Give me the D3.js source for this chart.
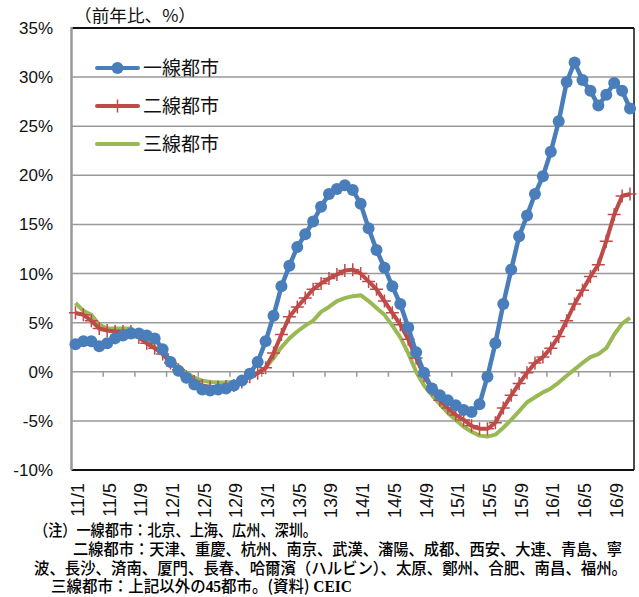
<!DOCTYPE html>
<html>
<head>
<meta charset="utf-8">
<script src="https://cdn.jsdelivr.net/npm/d3@7"></script>
<style>
  body { margin: 0; background: #fff; }
  svg { font-family: "Liberation Sans", Arial, sans-serif; }
  .jp { font-family: "Noto Sans CJK JP", "Noto Sans", sans-serif; }
</style>
</head>
<body>
<svg width="639" height="597"></svg>
<script>
// months 2011/1 .. 2016/11
var months = [];
for (var yy = 11; yy <= 16; yy++) {
  for (var mm = 1; mm <= 12; mm++) {
    if (yy == 16 && mm > 11) break;
    months.push(yy + "/" + mm);
  }
}
var tickLabels = ["11/1","11/5","11/9","12/1","12/5","12/9","13/1","13/5","13/9",
                  "14/1","14/5","14/9","15/1","15/5","15/9","16/1","16/5","16/9"];
var yTicks = [-10, -5, 0, 5, 10, 15, 20, 25, 30, 35];

// 一線都市
var tier1 = [2.8, 3.1, 3.1, 2.6, 2.9, 3.4, 3.7, 3.9, 3.9, 3.7, 3.4, 2.3,
             1.0, 0.1, -0.6, -1.3, -1.8, -1.9, -1.8, -1.7, -1.4, -0.9, -0.2, 1.0,
             3.1, 5.7, 8.7, 10.8, 12.7, 14.0, 15.3, 16.8, 18.1, 18.6, 19.0, 18.5,
             17.1, 14.6, 12.4, 10.6, 8.7, 6.9, 4.5, 2.0, -0.1, -1.7, -2.4, -2.9,
             -3.4, -3.9, -4.1, -3.3, -0.5, 2.9, 6.9, 10.4, 13.8, 15.9, 18.1, 19.9,
             22.4, 25.5, 29.5, 31.5, 29.7, 28.6, 27.1, 28.2, 29.4, 28.6, 26.8];
// 二線都市
var tier2 = [6.0, 5.8, 5.2, 4.4, 4.2, 4.1, 4.1, 4.1, 3.5, 2.9, 2.4, 1.8,
             0.9, 0.2, -0.5, -1.0, -1.4, -1.55, -1.55, -1.5, -1.4, -1.05, -0.5, -0.15,
             0.4, 1.9, 3.8, 5.6, 6.6, 7.5, 8.4, 9.0, 9.5, 9.9, 10.3, 10.4,
             10.0, 9.2, 8.4, 7.2, 6.0, 4.8, 3.3, 1.4, -0.4, -1.8, -2.9, -3.7,
             -4.4, -4.9, -5.5, -5.8, -5.8, -5.2, -3.7, -2.4, -1.2, -0.1, 0.9, 1.5,
             2.4, 3.6, 5.2, 6.9, 8.3, 9.7, 10.9, 13.3, 16.0, 17.9, 18.1];
// 三線都市
var tier3 = [7.0, 6.2, 5.8, 4.8, 4.4, 4.4, 4.4, 4.4, 3.9, 3.2, 2.5, 1.9,
             1.2, 0.5, -0.1, -0.6, -0.9, -1.05, -1.1, -1.1, -1.05, -0.85, -0.4, -0.1,
             0.4, 1.4, 2.5, 3.4, 4.1, 4.7, 5.2, 6.1, 6.6, 7.2, 7.5, 7.7,
             7.8, 7.2, 6.5, 5.8, 4.7, 3.5, 1.9, 0.0, -1.4, -2.4, -3.3, -4.2,
             -4.9, -5.6, -6.1, -6.5, -6.6, -6.4, -5.7, -4.9, -4.0, -3.1, -2.6, -2.1,
             -1.7, -1.1, -0.4, 0.25, 0.9, 1.5, 1.8, 2.4, 3.8, 4.9, 5.5];

var seriesNames = ["一線都市", "二線都市", "三線都市"];
var colors = ["#4A7EBB", "#BE4B48", "#98B954"];

var svg = d3.select("svg");
var plotL = 71.5, plotR = 634, plotT = 28, plotB = 470;

var x = d3.scaleBand().domain(months).range([plotL, plotR]).padding(0);
var y = d3.scaleLinear().domain([-10, 35]).range([plotB, plotT]);
var cx = function(i) { return x(months[i]) + x.bandwidth() / 2; };

// gridlines
svg.append("g").selectAll("line")
  .data(yTicks.filter(function(d) { return d > -10 && d < 35; }))
  .enter().append("line")
  .attr("x1", plotL).attr("x2", plotR)
  .attr("y1", function(d) { return y(d); }).attr("y2", function(d) { return y(d); })
  .attr("stroke", "#999").attr("stroke-width", 1.5);

// tick marks on 0% line, every 4 months
var tickIdx = [];
for (var k = 4; k < months.length; k += 4) tickIdx.push(k);
svg.append("g").selectAll("line")
  .data(tickIdx).enter().append("line")
  .attr("x1", function(d) { return x(months[d]); })
  .attr("x2", function(d) { return x(months[d]); })
  .attr("y1", y(0)).attr("y2", y(0) + 5)
  .attr("stroke", "#999").attr("stroke-width", 1.5);

// frame
svg.append("line").attr("x1", plotL).attr("x2", plotR).attr("y1", plotT).attr("y2", plotT)
  .attr("stroke", "#111").attr("stroke-width", 2);
svg.append("line").attr("x1", plotR).attr("x2", plotR).attr("y1", plotT).attr("y2", plotB)
  .attr("stroke", "#111").attr("stroke-width", 1.5);
svg.append("line").attr("x1", plotL).attr("x2", plotR).attr("y1", plotB).attr("y2", plotB)
  .attr("stroke", "#111").attr("stroke-width", 2);
svg.append("line").attr("x1", plotL).attr("x2", plotL).attr("y1", plotT - 1).attr("y2", plotB)
  .attr("stroke", "#999").attr("stroke-width", 2.5);

// y labels
svg.append("g").selectAll("text")
  .data(yTicks).enter().append("text")
  .attr("x", 53).attr("y", function(d) { return y(d) + 6; })
  .attr("text-anchor", "end").attr("font-size", 17).attr("fill", "#111")
  .text(function(d) { return d + "%"; });

// x labels (rotated)
svg.append("g").selectAll("text")
  .data(tickLabels).enter().append("text")
  .attr("transform", function(d) {
    return "translate(" + (x(d) + x.bandwidth() / 2 + 8.5) + "," + 483 + ") rotate(-90)";
  })
  .attr("text-anchor", "end").attr("font-size", 18).attr("fill", "#111")
  .text(function(d) { return d; });

// lines
var line = d3.line()
  .x(function(d, i) { return cx(i); })
  .y(function(d) { return y(d); });

var allSeries = [tier1, tier2, tier3];
// draw green, red, blue order (blue on top)
[2, 1, 0].forEach(function(s) {
  svg.append("path").datum(allSeries[s])
    .attr("d", line).attr("fill", "none")
    .attr("stroke", colors[s]).attr("stroke-width", s == 0 ? 4.5 : 4)
    .attr("stroke-linejoin", "round");
  if (s == 1) {
    var g2 = svg.append("g");
    g2.selectAll("path").data(allSeries[s]).enter().append("path")
      .attr("d", function(d, i) {
        var px = cx(i), py = y(d);
        return "M" + (px - 6.5) + "," + py + "H" + (px + 6.5) + "M" + px + "," + (py - 6.5) + "V" + (py + 6.5);
      })
      .attr("stroke", colors[s]).attr("stroke-width", 1.5);
  }
  if (s == 0) {
    svg.append("g").selectAll("circle").data(allSeries[s]).enter().append("circle")
      .attr("cx", function(d, i) { return cx(i); })
      .attr("cy", function(d) { return y(d); })
      .attr("r", 6).attr("fill", colors[s]);
  }
});

// legend
var lg = svg.append("g");
seriesNames.forEach(function(name, i) {
  var ly = 68 + i * 38;
  lg.append("line").attr("x1", 97).attr("x2", 138).attr("y1", ly).attr("y2", ly)
    .attr("stroke", colors[i]).attr("stroke-width", 4).attr("stroke-linecap", "round");
  if (i == 0) {
    lg.append("circle").attr("cx", 117.5).attr("cy", ly).attr("r", 6).attr("fill", colors[i]);
  }
  if (i == 1) {
    lg.append("path").attr("d", "M111," + ly + "H124M117.5," + (ly - 6.5) + "V" + (ly + 6.5))
      .attr("stroke", colors[i]).attr("stroke-width", 1.5);
  }
  lg.append("text").attr("class", "jp").attr("x", 143).attr("y", ly + 7)
    .attr("font-size", 19).attr("fill", "#111").text(name);
});

// unit
svg.append("text").attr("class", "jp").attr("x", 74).attr("y", 22)
  .attr("font-size", 17).attr("fill", "#111")
  .attr("textLength", 122).attr("lengthAdjust", "spacingAndGlyphs")
  .text("（前年比、%）");

// notes
var notes = [
  { t: "（注）一線都市：北京、上海、広州、深圳。", x: 34, y: 536, w: 283 },
  { t: "二線都市：天津、重慶、杭州、南京、武漢、瀋陽、成都、西安、大連、青島、寧", x: 73, y: 555, w: 549 },
  { t: "波、長沙、済南、厦門、長春、哈爾濱（ハルビン）、太原、鄭州、合肥、南昌、福州。", x: 34, y: 573.5, w: 593 }
];
svg.append("g").selectAll("text").data(notes).enter().append("text")
  .attr("class", "jp")
  .attr("x", function(d) { return d.x; }).attr("y", function(d) { return d.y; })
  .attr("font-size", 16).attr("font-weight", 500).attr("fill", "#000")
  .attr("textLength", function(d) { return d.w; }).attr("lengthAdjust", "spacingAndGlyphs")
  .text(function(d) { return d.t; });

// last note line, with serif figures as in the source
var last = svg.append("text").attr("class", "jp")
  .attr("x", 51).attr("y", 592)
  .attr("font-size", 16).attr("font-weight", 500).attr("fill", "#000")
  .attr("textLength", 301).attr("lengthAdjust", "spacingAndGlyphs");
last.append("tspan").text("三線都市：上記以外の");
last.append("tspan").attr("font-family", "Liberation Serif").attr("font-weight", "bold").text("45");
last.append("tspan").text("都市。(資料)");
last.append("tspan").attr("font-family", "Liberation Serif").attr("font-weight", "bold").text(" CEIC");
</script>
</body>
</html>
